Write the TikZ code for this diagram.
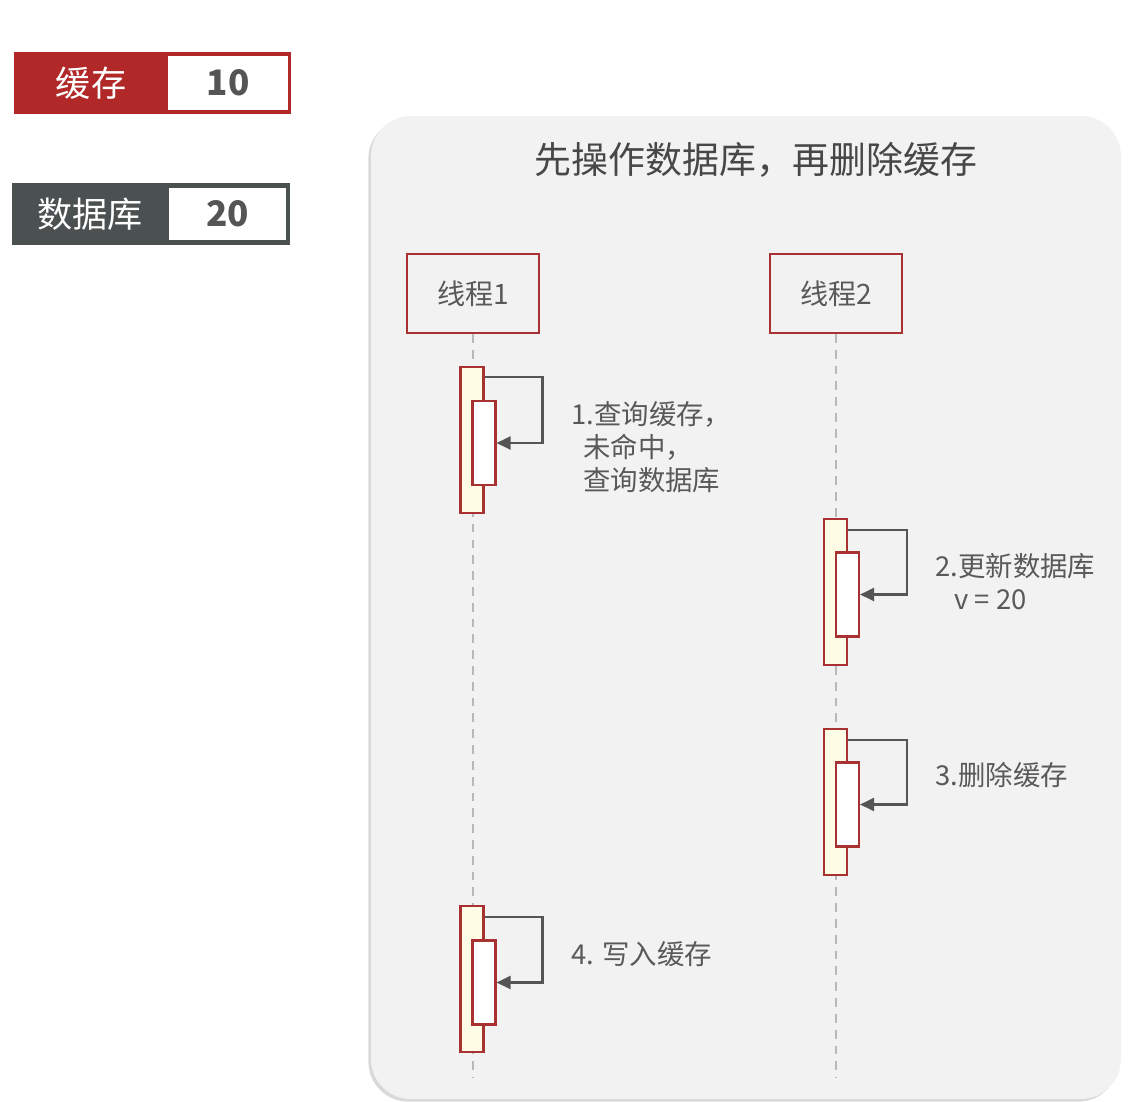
\documentclass[tikz,border=0pt]{standalone}
\usepackage{fontspec}
\setmainfont{Noto Sans CJK SC}
\usetikzlibrary{arrows.meta,shadows}
\definecolor{cachered}{HTML}{B02828}
\definecolor{dbgray}{HTML}{4B5050}
\definecolor{panelbg}{HTML}{F2F2F2}
\definecolor{framered}{HTML}{A83232}
\definecolor{barfill}{HTML}{FFFCE6}
\definecolor{txtgray}{HTML}{595959}
\definecolor{linegray}{HTML}{555555}

\begin{document}
\begin{tikzpicture}[x=0.02cm,y=-0.02cm,
  thread/.style={draw=framered,line width=1.1pt,fill=panelbg,minimum width=2.64cm,minimum height=1.58cm,
    text=txtgray,font=\fontsize{16}{19}\selectfont},
  outerbar/.style={draw=framered,line width=1.2pt,fill=barfill,inner sep=0,minimum width=0.46cm,minimum height=2.92cm},
  innerbar/.style={draw=framered,line width=1.2pt,fill=white,inner sep=0,minimum width=0.46cm,minimum height=1.68cm},
  self/.style={draw=linegray,line width=1.3pt,-{Triangle[length=0.28cm,width=0.26cm]}},
  life/.style={draw=black!28,line width=0.7pt,dash pattern=on 5pt off 4pt},
  note/.style={anchor=west,text=txtgray,align=left,font=\fontsize{15.6}{18.7}\selectfont,inner sep=0},
  valbox/.style={fill=white,inner sep=0,text=linegray,font=\fontsize{20}{24}\selectfont\bfseries}]
\useasboundingbox (0,0) rectangle (1147,1102);

\node[fill=cachered,minimum width=5.54cm,minimum height=1.24cm,inner sep=0] (cache) at (152.5,83) {};
\node[text=white,font=\fontsize{20}{24}\selectfont] (cachelbl) at (91,83) {缓存};
\node[valbox,minimum width=2.4cm,minimum height=1.08cm] (cacheval) at (228,83) {10};

\node[fill=dbgray,minimum width=5.56cm,minimum height=1.24cm,inner sep=0] (db) at (151,214) {};
\node[text=white,font=\fontsize{20}{24}\selectfont] (dblbl) at (90,214) {数据库};
\node[valbox,minimum width=2.34cm,minimum height=1.04cm] (dbval) at (227.5,214) {20};

\fill[panelbg,rounded corners=0.8cm,drop shadow={opacity=0.3,shadow xshift=-1.5pt,shadow yshift=-1.5pt}]
  (371,116) rectangle (1121,1099);
\node[text=black!72,font=\fontsize{21}{25}\selectfont] (title) at (756,160) {先操作数据库，再删除缓存};

\node[thread] (t1) at (473,293.5) {线程1};
\node[thread] (t2) at (836,293.5) {线程2};
\coordinate (t1end) at (473,1078);
\coordinate (t2end) at (836,1078);
\draw[life] (t1) -- (t1end);
\draw[life] (t2) -- (t2end);

\node[outerbar] (a1) at (472,440) {};
\node[innerbar] (b1) at (484,443) {};
\draw[self] ([yshift=-0.22cm]a1.north east) -- ++(58,0) |- (b1.east);
\node[note] (n1) at (571,447) {1.查询缓存，\\\hspace*{0.24cm}未命中，\\\hspace*{0.24cm}查询数据库};

\node[outerbar] (a2) at (835.5,592) {};
\node[innerbar] (b2) at (847.5,594.5) {};
\draw[self] ([yshift=-0.24cm]a2.north east) -- ++(59,0) |- (b2.east);
\node[note] (n2) at (935,582) {2.更新数据库\\\hspace*{0.38cm}v = 20};

\node[outerbar] (a3) at (835.5,802) {};
\node[innerbar] (b3) at (847.5,804.5) {};
\draw[self] ([yshift=-0.24cm]a3.north east) -- ++(59,0) |- (b3.east);
\node[note] (n3) at (935,775) {3.删除缓存};

\node[outerbar] (a4) at (472,979) {};
\node[innerbar] (b4) at (484,982.5) {};
\draw[self] ([yshift=-0.24cm]a4.north east) -- ++(58,0) |- (b4.east);
\node[note] (n4) at (571,954) {4. 写入缓存};
\end{tikzpicture}
\end{document}
